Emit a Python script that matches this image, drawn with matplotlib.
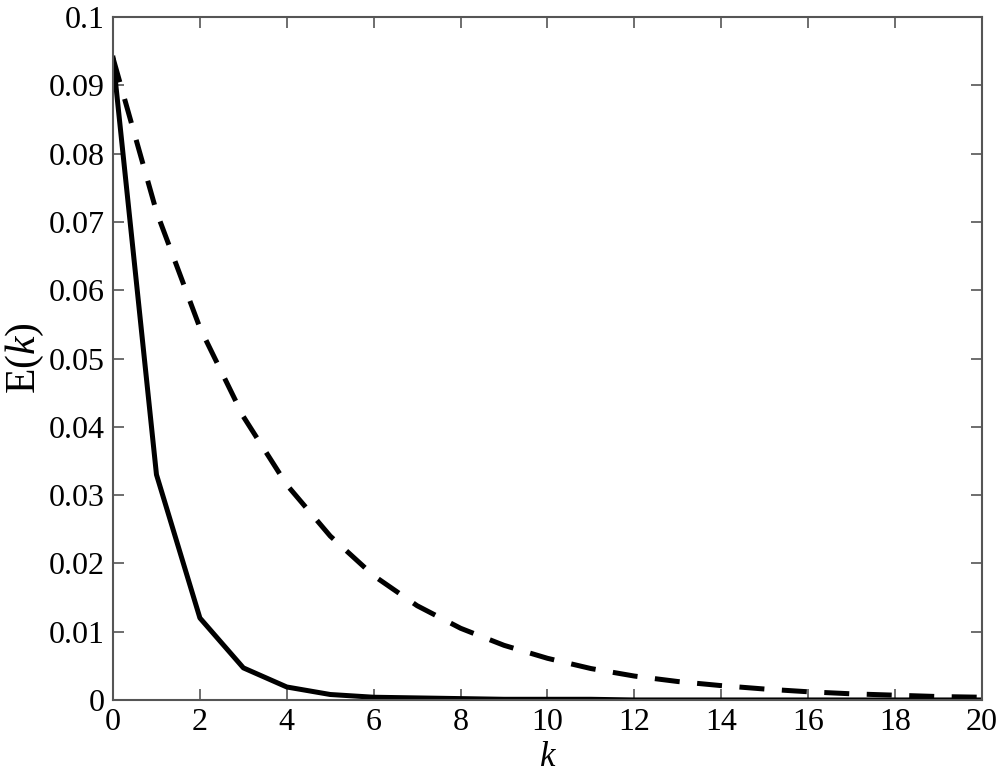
import matplotlib
matplotlib.use("Agg")
from matplotlib import pyplot as plt

k = list(range(21))
e_solid = [0.094, 0.033, 0.012, 0.0047, 0.0019, 0.0008, 0.0004, 0.0003, 0.0002, 0.0001,
           0.0001, 0.0001, 0.0, 0.0, 0.0, 0.0, 0.0, 0.0, 0.0, 0.0, 0.0]
e_dashed = [0.094, 0.0715, 0.0545, 0.0415, 0.0315, 0.024, 0.0182, 0.0138, 0.0105, 0.008,
            0.0061, 0.0046, 0.0035, 0.0027, 0.0021, 0.0016, 0.0012, 0.0009, 0.0007, 0.0005, 0.0004]
x_ticks = list(range(0, 21, 2))
y_ticks = [0, 0.01, 0.02, 0.03, 0.04, 0.05, 0.06, 0.07, 0.08, 0.09, 0.1]
y_labels = ["0", "0.01", "0.02", "0.03", "0.04", "0.05", "0.06", "0.07", "0.08", "0.09", "0.1"]

plt.rcParams['font.family'] = ['Liberation Serif', 'DejaVu Serif']
plt.rcParams['mathtext.fontset'] = 'custom'
plt.rcParams['mathtext.it'] = 'Liberation Serif:italic'
plt.rcParams['mathtext.rm'] = 'Liberation Serif'

fig = plt.figure(figsize=(10.02, 7.78), dpi=100)
ax = fig.add_axes([0.1128, 0.1003, 0.8672, 0.8777])

ax.plot(k, e_solid, color='black', linewidth=3.6, linestyle='-')
ax.plot(k, e_dashed, color='black', linewidth=3.6, linestyle=(0, (5, 3.5)))

ax.set_xlim(0, 20)
ax.set_ylim(0, 0.1)
ax.set_xticks(x_ticks)
ax.set_yticks(y_ticks)
ax.set_yticklabels(y_labels)
ax.tick_params(direction='in', length=8, width=1.2, color='#555555',
               top=True, right=True, labelsize=23, pad=6)
for s in ax.spines.values():
    s.set_color('#555555')
    s.set_linewidth(1.5)

ax.set_xlabel(r'$k$', fontsize=25, labelpad=3)
ax.set_ylabel(r'E($k$)', fontsize=30, labelpad=2)

plt.savefig('out.png', dpi=100)
